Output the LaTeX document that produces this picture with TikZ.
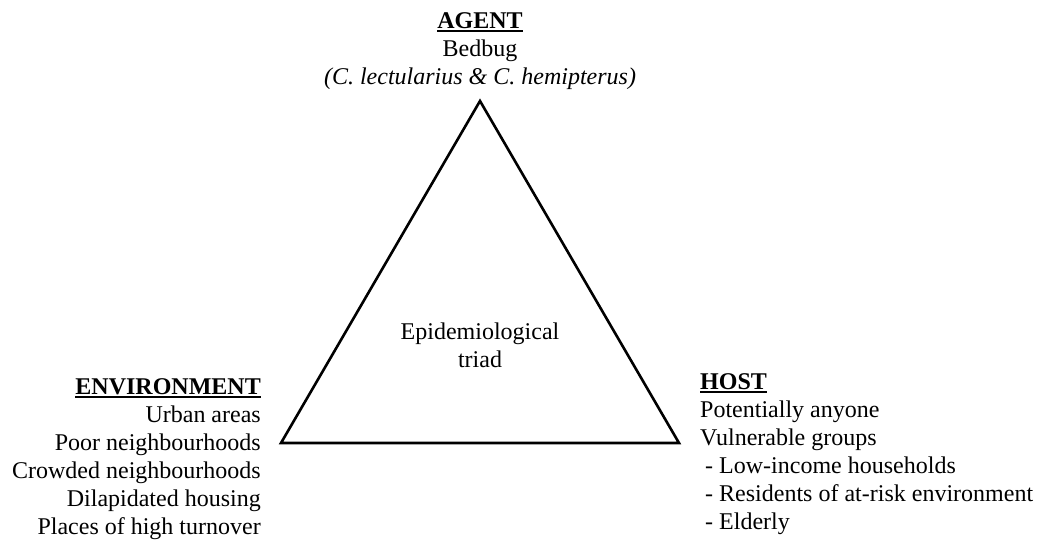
\documentclass[tikz,border=0pt]{standalone}
\usepackage{fontspec}
\setmainfont{Liberation Serif}
\usetikzlibrary{positioning}
\newcommand{\ulhead}[1]{\setbox0\hbox{\textbf{#1}}\leavevmode\rlap{\rule[-4pt]{\wd0}{2.4pt}}\box0}
\tikzset{
  triad text/.style={font=\fontsize{24}{28}\selectfont, inner sep=0pt},
  triad edge/.style={line width=2.6pt, line join=miter}
}
\begin{document}
\begin{tikzpicture}[x=1pt,y=-1pt]
\useasboundingbox (0,0) rectangle (1040,540);
\coordinate (apex) at (480,101);
\coordinate (envcorner) at (281,443);
\coordinate (hostcorner) at (679,443);
\draw[triad edge] (apex) -- (envcorner) -- (hostcorner) -- cycle;
\node[triad text, align=center, anchor=north] (agent) at (480,12)
  {\ulhead{AGENT}\\ Bedbug\\ \textit{(C. lectularius \& C. hemipterus)}};
\node[triad text, align=center, anchor=north] (triad) at (480,323)
  {Epidemiological\\ triad};
\node[triad text, align=right, anchor=north east] (environment) at (261,378)
  {\ulhead{ENVIRONMENT}\\ Urban areas\\ Poor neighbourhoods\\ Crowded neighbourhoods\\
   Dilapidated housing\\ Places of high turnover};
\node[triad text, align=left, anchor=north west] (host) at (700,373)
  {\ulhead{HOST}\\ Potentially anyone\\ Vulnerable groups\\
   \hspace*{5pt}- Low-income households\\
   \hspace*{5pt}- Residents of at-risk environment\\
   \hspace*{5pt}- Elderly};
\end{tikzpicture}
\end{document}
